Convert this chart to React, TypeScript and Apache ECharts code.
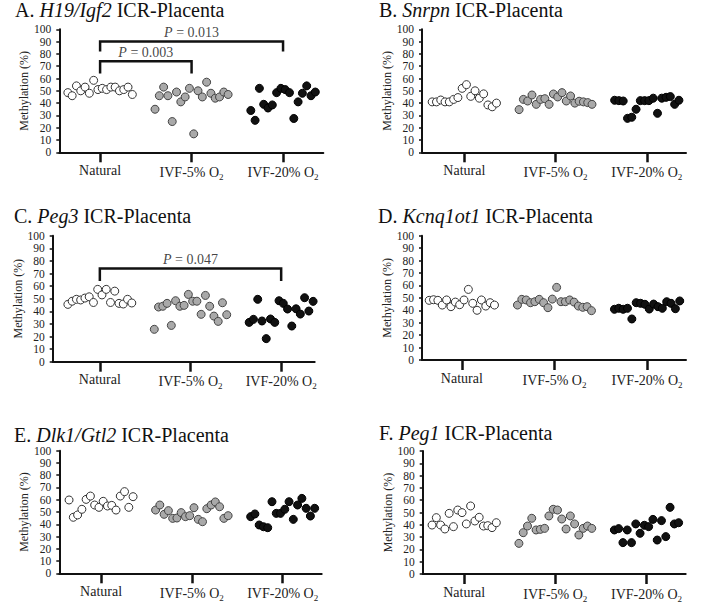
import React, { useEffect, useRef } from "react";
import * as echarts from "echarts";

const FONT = "Liberation Serif";

const groupLabels = ["{n|Natural}", "{n|IVF-5% O}{s|2}", "{n|IVF-20% O}{s|2}"];

// A. H19/Igf2
const h19Natural = [48.5, 46, 54, 50, 53, 48, 58.5, 51, 52, 51, 53, 53, 50, 51, 53, 47];
const h19Ivf5 = [35, 46, 53, 46, 25, 49, 41, 45, 52, 15, 50, 45, 57, 48, 44, 45, 49, 47];
const h19Ivf20 = [34, 26, 52, 39, 36, 38.5, 48.5, 52, 51, 48.5, 27.5, 41, 48, 54, 46, 49];
// B. Snrpn
const snrpnNatural = [41, 41, 42.5, 41, 41, 43, 44.5, 52, 55, 45.5, 50, 44, 47.5, 38.5, 37, 40];
const snrpnIvf5 = [34.7, 43, 41.7, 46.6, 39, 43, 43.6, 39, 47.4, 45, 48.5, 41.7, 45.8, 40, 41.5, 41, 40.4, 39];
const snrpnIvf20 = [42.3, 42, 41.7, 27.6, 28.5, 35, 42, 42, 42, 44, 31.7, 44, 44.7, 45.3, 39, 42.3];
// C. Peg3
const peg3Natural = [45.5, 48, 49.5, 49, 50.5, 51.5, 47, 57.4, 53, 57.4, 47, 56, 46.3, 45.8, 49.5, 46.6];
const peg3Ivf5 = [25.7, 43.4, 44, 46.3, 28.8, 48.4, 44, 44.7, 53.4, 48, 48, 37.6, 52.6, 44, 36.2, 32, 46.8, 37.3];
const peg3Ivf20 = [31.2, 33.6, 49.5, 32.3, 18.3, 33.9, 31.2, 48.4, 46.3, 41.8, 28.3, 42, 37.8, 50.8, 40.2, 47.9];
// D. Kcnq1ot1
const kcnqNatural = [48, 48.5, 48, 44.2, 48.3, 42.9, 46.6, 44.5, 48.3, 56.8, 45.6, 40, 48.3, 43.4, 46.1, 44.2];
const kcnqIvf5 = [44.2, 48.8, 48.3, 46.1, 46.9, 48.8, 46.1, 42.1, 49, 58.4, 46.9, 46.9, 48.3, 46.6, 43.4, 42.4, 42.9, 39.7];
const kcnqIvf20 = [40.8, 41.6, 40.8, 41.6, 33, 46.1, 45.6, 44.8, 41, 45, 42.9, 41.6, 46.9, 45.6, 41.3, 47.5];
// E. Dlk1/Gtl2
const dlkNatural = [59.8, 45.7, 47.6, 52.2, 60.3, 63, 55.7, 53.8, 58.7, 54.9, 55.4, 51.6, 63, 66.6, 53.8, 62.5];
const dlkIvf5 = [51.6, 55.7, 48.1, 51.1, 44.8, 45.1, 49.5, 46.2, 47, 53.5, 44, 42.1, 52.7, 55.7, 58.2, 54.3, 44.8, 47];
const dlkIvf20 = [46.2, 48.4, 39.4, 38, 37.2, 58.4, 48.9, 48.9, 52.2, 58.4, 44, 55.7, 61.1, 53, 46.7, 53];
// F. Peg1
const peg1Natural = [39.8, 45.8, 39.8, 36.6, 49.3, 38.5, 52, 49.9, 40.7, 55.3, 43.1, 46.1, 39, 39.3, 37.7, 41.7];
const peg1Ivf5 = [24.9, 33.6, 39, 45.3, 35.8, 36.3, 37.1, 47.2, 52.6, 52, 44.7, 36.6, 47.2, 40.7, 31.7, 37.1, 39, 37.1];
const peg1Ivf20 = [35.8, 36.9, 25.5, 35.8, 25.5, 40.7, 33.1, 39.6, 38.5, 44.4, 27.6, 43.4, 30.4, 54.2, 40.7, 41.7];

// Significance brackets (group indices, bracket heights in %)
const h19Brackets = [
  { from: 0, to: 2, top: 90, foot: 83, p: "0.013" },
  { from: 0, to: 1, top: 74, foot: 65, p: "0.003" },
];
const peg3Brackets = [{ from: 0, to: 2, top: 74, foot: 65, p: "0.047" }];

const panels = [
  { letter: "A", gene: "H19/Igf2", sets: [h19Natural, h19Ivf5, h19Ivf20], brackets: h19Brackets,
    box: { left: 59.3, top: 29.3, width: 264, height: 123, xMin: -0.446, xMax: 2.44 }, title: { left: 15, top: 0 } },
  { letter: "B", gene: "Snrpn", sets: [snrpnNatural, snrpnIvf5, snrpnIvf20], brackets: [],
    box: { left: 422, top: 29.3, width: 264, height: 123, xMin: -0.464, xMax: 2.43 }, title: { left: 379, top: 0 } },
  { letter: "C", gene: "Peg3", sets: [peg3Natural, peg3Ivf5, peg3Ivf20], brackets: peg3Brackets,
    box: { left: 52.7, top: 235.7, width: 262, height: 126, xMin: -0.52, xMax: 2.37 }, title: { left: 14, top: 206 } },
  { letter: "D", gene: "Kcnq1ot1", sets: [kcnqNatural, kcnqIvf5, kcnqIvf20], brackets: [],
    box: { left: 422, top: 235.7, width: 264, height: 124.3, xMin: -0.43, xMax: 2.42 }, title: { left: 378, top: 206 } },
  { letter: "E", gene: "Dlk1/Gtl2", sets: [dlkNatural, dlkIvf5, dlkIvf20], brackets: [],
    box: { left: 59.3, top: 450.7, width: 262.4, height: 122.6, xMin: -0.46, xMax: 2.43 }, title: { left: 14, top: 425 } },
  { letter: "F", gene: "Peg1", sets: [peg1Natural, peg1Ivf5, peg1Ivf20], brackets: [],
    box: { left: 422.7, top: 451, width: 263, height: 123, xMin: -0.455, xMax: 2.43 }, title: { left: 379, top: 422.5 } },
];

const STEP = 0.047;
const groupStyles = [
  { color: "#ffffff", borderColor: "#333333" },
  { color: "#a9a9a9", borderColor: "#444444" },
  { color: "#111111", borderColor: "#000000" },
];

function place(vals: number[], g: number) {
  const n = vals.length;
  return vals.map((v, i) => [g + (i - (n - 1) / 2) * STEP, v]);
}

function buildOption() {
  const grid: any[] = [];
  const xAxis: any[] = [];
  const yAxis: any[] = [];
  const series: any[] = [];
  const title: any[] = [];

  panels.forEach((p, k) => {
    const b = p.box;
    grid.push({ left: b.left, top: b.top, width: b.width, height: b.height });
    title.push({
      text: `{n|${p.letter}. }{i|${p.gene}}{n| ICR-Placenta}`,
      left: p.title.left,
      top: p.title.top,
      padding: 0,
      textStyle: {
        fontFamily: FONT, fontSize: 20, fontWeight: "normal", color: "#111",
        rich: {
          n: { fontFamily: FONT, fontSize: 20, color: "#111" },
          i: { fontFamily: FONT, fontSize: 20, fontStyle: "italic", color: "#111" },
        },
      },
    });
    xAxis.push({
      gridIndex: k, type: "value", min: b.xMin, max: b.xMax,
      axisLine: { show: true, onZero: false, lineStyle: { color: "#111", width: 2 } },
      axisTick: { show: true, customValues: [0, 1, 2], length: 10, lineStyle: { color: "#111", width: 2.5 } },
      axisLabel: {
        customValues: [0, 1, 2], margin: 11,
        formatter: (v: number) => groupLabels[Math.round(v)] ?? "",
        fontFamily: FONT, fontSize: 14, color: "#222",
        rich: {
          n: { fontFamily: FONT, fontSize: 14, color: "#222" },
          s: { fontFamily: FONT, fontSize: 9, color: "#222", verticalAlign: "bottom", padding: [9, 0, 0, 0] },
        },
      },
      splitLine: { show: false },
    });
    yAxis.push({
      gridIndex: k, type: "value", min: 0, max: 100, interval: 10,
      name: "Methylation (%)", nameLocation: "middle", nameGap: 29,
      nameTextStyle: { fontFamily: FONT, fontSize: 12, color: "#222" },
      axisLine: { show: true, onZero: false, lineStyle: { color: "#111", width: 2 } },
      axisTick: { show: true, length: 3, lineStyle: { color: "#111", width: 1.5 } },
      axisLabel: { margin: 8, fontFamily: FONT, fontSize: 11.5, color: "#222" },
      splitLine: { show: false },
    });
    p.sets.forEach((vals, g) => {
      series.push({
        type: "scatter", xAxisIndex: k, yAxisIndex: k,
        data: place(vals, g), symbol: "circle", symbolSize: 8,
        itemStyle: { ...groupStyles[g], borderWidth: 1, opacity: 1 },
        z: 3,
      });
    });
    p.brackets.forEach((br) => {
      series.push({
        type: "line", xAxisIndex: k, yAxisIndex: k, symbol: "none",
        data: [[br.from, br.foot], [br.from, br.top], [br.to, br.top], [br.to, br.foot]],
        lineStyle: { color: "#111", width: 2.5, cap: "square", join: "miter" },
        z: 4,
      });
      series.push({
        type: "scatter", xAxisIndex: k, yAxisIndex: k, symbolSize: 0,
        data: [[(br.from + br.to) / 2, br.top]],
        itemStyle: { color: "transparent" },
        label: {
          show: true, position: "top", distance: 2,
          formatter: `{i|P}{n| = ${br.p}}`,
          fontFamily: FONT, fontSize: 14, color: "#111",
          rich: {
            n: { fontFamily: FONT, fontSize: 14, color: "#111" },
            i: { fontFamily: FONT, fontSize: 14, fontStyle: "italic", color: "#111" },
          },
        },
        z: 5,
      });
    });
  });

  return { animation: false, backgroundColor: "#ffffff", title, grid, xAxis, yAxis, series };
}

export default function App() {
  const ref = useRef<HTMLDivElement>(null);
  useEffect(() => {
    if (!ref.current) return;
    const chart = echarts.init(ref.current, undefined, { renderer: "svg" });
    chart.setOption(buildOption() as any);
    return () => chart.dispose();
  }, []);
  return (
    <div
      ref={ref}
      style={{ position: "absolute", left: 0, top: 0, width: 722, height: 604, background: "#fff" }}
    />
  );
}
